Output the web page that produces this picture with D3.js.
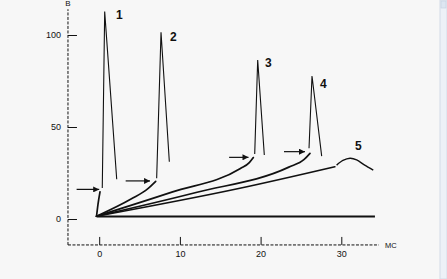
<!DOCTYPE html>
<html>
<head>
<meta charset="utf-8">
<script src="https://cdn.jsdelivr.net/npm/d3@7/dist/d3.min.js"></script>
<style>
  html, body { margin: 0; padding: 0; background: #f7f7f7; overflow: hidden; }
  svg { display: block; }
  text { font-family: "Liberation Sans", Arial, sans-serif; fill: #111; }
</style>
</head>
<body>
<svg id="chart" width="447" height="279"></svg>
<script>
// ---- data (x in ms, y in V) ----
const xTicks = [0, 10, 20, 30];
const yTicks = [0, 50, 100];
const xUnit = "мс";
const yUnit = "В";

const curve1 = [[-0.33, 1.5], [-0.15, 8], [0.1, 14.8]];
const curve2 = [[-0.33, 1.5], [4, 11], [6, 16.4], [7.0, 20.5]];
const curve3 = [[-0.33, 1.5], [9, 14.6], [17.5, 27.4], [18.6, 30.6], [19.1, 33.4]];
const curve4 = [[-0.33, 1.5], [12, 14.4], [23.5, 28.2], [25.4, 32.4], [26.12, 35.7]];
const curve5 = [[-0.33, 1.5], [17.43, 16.7], [29.2, 28.4]];
const hump5  = [[29.42, 29.3], [30.2, 31.8], [31.08, 33], [31.9, 32.1], [32.9, 29.3], [33.96, 26.6]];

const spike1 = [[0.38, 16.8], [0.68, 112.7], [2.17, 21.6]];
const spike2 = [[7.12, 22.1], [7.66, 101.5], [8.69, 31.1]];
const spike3 = [[19.27, 35.3], [19.64, 86.4], [20.46, 34.8]];
const spike4 = [[26.0, 38.4], [26.37, 77.7], [27.57, 34.2]];

const baseline = [[-0.33, 1.3], [34.17, 1.3]];

// arrows: [x from, x to, y]
const arrows = [[-2.8, 0.0, 16.1], [3.28, 6.3, 20.7], [16.1, 18.5, 33.5], [22.9, 25.5, 36.6]];

// curve labels: [text, x, y]
const curveLabels = [["1", 2.49, 110.9], ["2", 9.18, 99], ["3", 20.95, 85], ["4", 27.77, 73.75], ["5", 32.1, 39.7]];

// axis extents
const xAxisExtent = [-3.87, 34.66];
const yAxisExtent = [-14.1, 114];

// ---- drawing ----
const svg = d3.select("#chart");
const x = d3.scaleLinear().domain([0, 30]).range([99.2, 341.3]);
const y = d3.scaleLinear().domain([0, 100]).range([219, 35]);

// scrollbar decoration
svg.append("rect").attr("x", 440).attr("y", 0).attr("width", 7).attr("height", 279)
  .attr("fill", "#edf1f7").attr("stroke", "#d3dce8").attr("stroke-width", 1);
svg.append("rect").attr("x", 441).attr("y", 1).attr("width", 5).attr("height", 7)
  .attr("fill", "#dde6f1").attr("stroke", "#c3cfdf").attr("stroke-width", 0.6);

// axis lines (dashed)
svg.append("line")
  .attr("x1", x(xAxisExtent[0])).attr("x2", x(xAxisExtent[1]))
  .attr("y1", y(yAxisExtent[0])).attr("y2", y(yAxisExtent[0]))
  .attr("stroke", "#111").attr("stroke-width", 1).attr("stroke-dasharray", "3,1.5");
svg.append("line")
  .attr("x1", x(xAxisExtent[0])).attr("x2", x(xAxisExtent[0]))
  .attr("y1", y(yAxisExtent[0])).attr("y2", y(yAxisExtent[1]))
  .attr("stroke", "#111").attr("stroke-width", 1).attr("stroke-dasharray", "3,1.5");

// x axis ticks
const gx = svg.append("g")
  .attr("transform", `translate(0,${y(yAxisExtent[0])})`)
  .call(d3.axisBottom(x).tickValues(xTicks).tickSize(-8).tickPadding(6).tickSizeOuter(0));
gx.select(".domain").remove();
gx.selectAll("line").attr("stroke", "#111").attr("stroke-width", 1);
gx.selectAll("text").attr("font-size", 9).attr("fill", "#111")
  .attr("font-family", "Liberation Sans, Arial, sans-serif");

// y axis ticks
const gy = svg.append("g")
  .attr("transform", `translate(${x(xAxisExtent[0])},0)`)
  .call(d3.axisLeft(y).tickValues(yTicks).tickSize(-9).tickPadding(7).tickSizeOuter(0));
gy.select(".domain").remove();
gy.selectAll("line").attr("stroke", "#111").attr("stroke-width", 1);
gy.selectAll("text").attr("font-size", 9).attr("fill", "#111")
  .attr("font-family", "Liberation Sans, Arial, sans-serif");

// unit labels
svg.append("text").attr("x", x(xAxisExtent[0])).attr("y", 6)
  .attr("text-anchor", "middle").attr("font-size", 8).text(yUnit);
svg.append("text").attr("x", x(xAxisExtent[1]) + 6).attr("y", y(yAxisExtent[0]) + 3)
  .attr("text-anchor", "start").attr("font-size", 7.5).text(xUnit.toUpperCase());

const line = d3.line().x(d => x(d[0])).y(d => y(d[1]));
const smooth = d3.line().x(d => x(d[0])).y(d => y(d[1])).curve(d3.curveMonotoneX);
const spline = d3.line().x(d => x(d[0])).y(d => y(d[1])).curve(d3.curveCardinal.tension(0.2));

// baseline
svg.append("path").attr("d", line(baseline)).attr("fill", "none")
  .attr("stroke", "#111").attr("stroke-width", 2);

// rising curves
[curve1, curve2, curve3, curve4, curve5].forEach(c => {
  svg.append("path").attr("d", smooth(c)).attr("fill", "none")
    .attr("stroke", "#111").attr("stroke-width", 1.7).attr("stroke-linecap", "round");
});
svg.append("path").attr("d", spline(hump5)).attr("fill", "none")
  .attr("stroke", "#111").attr("stroke-width", 1.4);

// spikes
[spike1, spike2, spike3, spike4].forEach(s => {
  svg.append("path").attr("d", line(s)).attr("fill", "none")
    .attr("stroke", "#111").attr("stroke-width", 1.1).attr("stroke-linejoin", "miter");
});

// arrows
svg.append("defs").append("marker")
  .attr("id", "ah").attr("viewBox", "0 0 10 10").attr("refX", 10).attr("refY", 5)
  .attr("markerWidth", 7).attr("markerHeight", 6).attr("markerUnits", "userSpaceOnUse")
  .attr("orient", "auto")
  .append("path").attr("d", "M0,0 L10,5 L0,10 Z").attr("fill", "#111");
arrows.forEach(a => {
  svg.append("line")
    .attr("x1", x(a[0])).attr("x2", x(a[1]))
    .attr("y1", y(a[2])).attr("y2", y(a[2]))
    .attr("stroke", "#111").attr("stroke-width", 1.2).attr("marker-end", "url(#ah)");
});

// curve labels
svg.selectAll("text.cl").data(curveLabels).enter().append("text")
  .attr("class", "cl")
  .attr("x", d => x(d[1])).attr("y", d => y(d[2]))
  .attr("dy", "0.36em").attr("text-anchor", "middle")
  .attr("font-size", 12).attr("font-weight", "bold").text(d => d[0]);
</script>
</body>
</html>
